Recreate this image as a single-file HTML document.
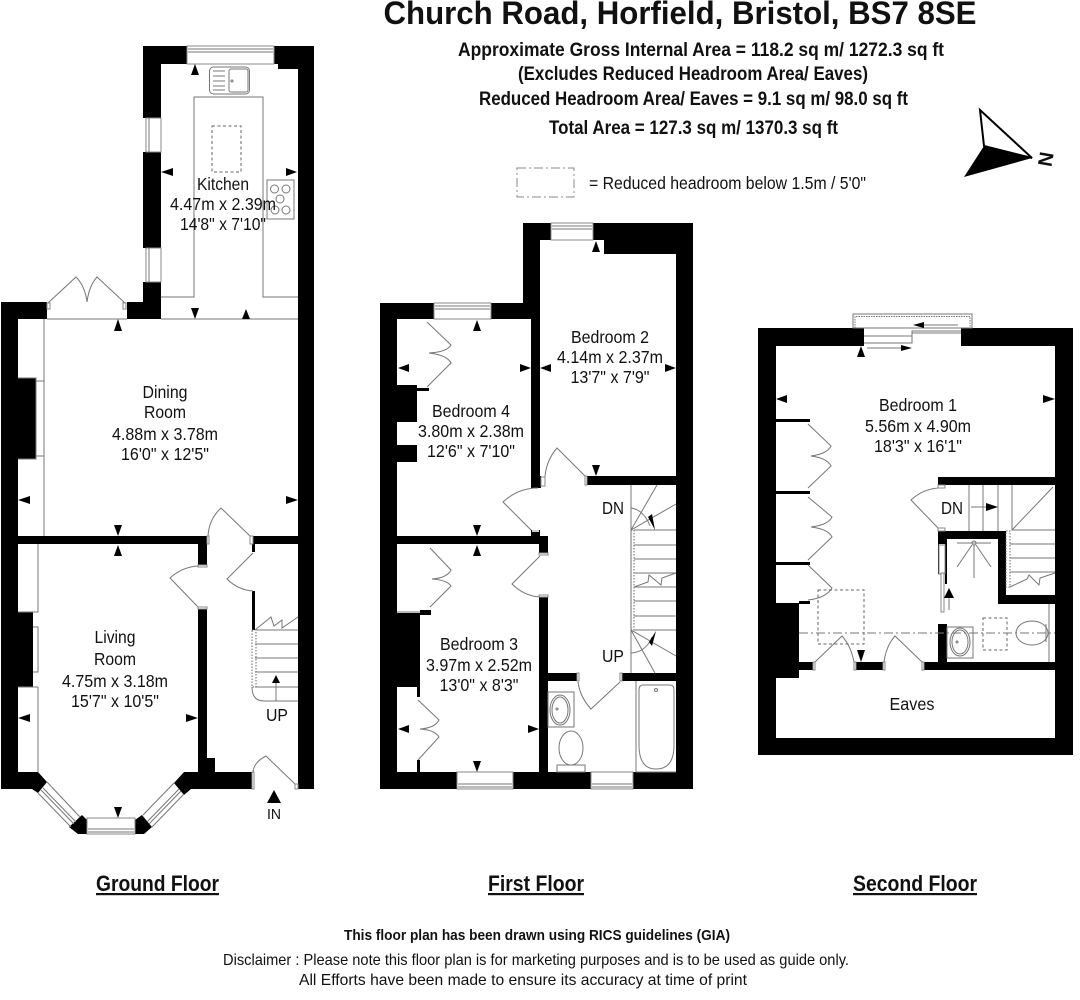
<!DOCTYPE html>
<html><head><meta charset="utf-8"><style>
html,body{margin:0;padding:0;background:#fff;width:1080px;height:1000px;overflow:hidden}
svg{display:block}
text{font-family:"Liberation Sans",sans-serif;fill:#111;text-anchor:middle}
.r{font-size:17.5px}
.b{font-weight:700}
.l{fill:none;stroke:#777;stroke-width:1}
.d{fill:none;stroke:#666;stroke-width:1;stroke-dasharray:3 2.5}
.w{fill:#000}
.g{fill:#fff;stroke:#888;stroke-width:1}
</style></head><body>
<svg width="1080" height="1000" viewBox="0 0 1080 1000" xmlns="http://www.w3.org/2000/svg">
<rect width="1080" height="1000" fill="#fff"/>

<!-- HEADER -->
<text x="680" y="24" font-size="32" class="b" textLength="593" lengthAdjust="spacingAndGlyphs">Church Road, Horfield, Bristol, BS7 8SE</text>
<text x="701" y="56" font-size="19" class="b" textLength="486" lengthAdjust="spacingAndGlyphs">Approximate Gross Internal Area = 118.2 sq m/ 1272.3 sq ft</text>
<text x="693" y="80" font-size="19" class="b" textLength="350" lengthAdjust="spacingAndGlyphs">(Excludes Reduced Headroom Area/ Eaves)</text>
<text x="693.5" y="105" font-size="19" class="b" textLength="429" lengthAdjust="spacingAndGlyphs">Reduced Headroom Area/ Eaves = 9.1 sq m/ 98.0 sq ft</text>
<text x="693.5" y="134" font-size="19" class="b" textLength="289" lengthAdjust="spacingAndGlyphs">Total Area = 127.3 sq m/ 1370.3 sq ft</text>
<rect x="517" y="168" width="57" height="29" fill="none" stroke="#888" stroke-dasharray="9 3 2 3"/>
<text x="727.5" y="189" font-size="17.5" textLength="277" lengthAdjust="spacingAndGlyphs">= Reduced headroom below 1.5m / 5'0"</text>
<polygon points="980,110 1032,158 984,146" fill="#fff" stroke="#000" stroke-width="2"/>
<polygon points="984,146 1032,158 964,177" fill="#000"/>
<text transform="translate(1039,158) rotate(100)" x="0" y="0" font-size="20" class="b">N</text>

<!-- ========== GROUND FLOOR ========== -->
<g class="w">
<rect x="143" y="46" width="44" height="18"/>
<rect x="143" y="46" width="18" height="72"/>
<rect x="143" y="152" width="18" height="96"/>
<rect x="143" y="282" width="18" height="37"/>
<rect x="127" y="302" width="34" height="17"/>
<polygon points="274,46 314,46 314,69 278,69 278,64 274,64"/>
<rect x="298" y="46" width="16" height="743"/>
<rect x="1" y="302" width="46" height="17"/>
<rect x="1" y="302" width="17" height="487"/>
<rect x="18" y="536" width="189" height="8"/>
<rect x="253" y="536" width="45" height="8"/>
<rect x="198" y="536" width="9" height="29"/>
<rect x="198" y="609" width="9" height="163"/>
<rect x="198" y="758" width="17" height="15"/>
<rect x="252" y="544" width="3" height="8"/>
<rect x="252" y="591" width="3" height="39"/>
<polygon points="18,772 38,772 47,782 38,793 32,789 1,789"/>
<polygon points="174,783 184,772 252,772 252,789 191,789 184,795"/>
<polygon points="82,815 87,820 87,834 78,834 69,827"/>
<polygon points="142,815 135,820 135,834 144,834 152,827"/>
<rect x="18" y="612" width="15" height="75"/>
<rect x="18" y="378" width="18" height="81"/>
</g>
<!-- ground windows -->
<rect class="g" x="187" y="46" width="87" height="18"/>
<path class="l" d="M188,49H273M188,52H273"/>
<rect class="g" x="146" y="118" width="15" height="34"/>
<path class="l" d="M149,118V152"/>
<rect class="g" x="146" y="248" width="15" height="34"/>
<path class="l" d="M149,248V282"/>
<rect class="g" x="87" y="818" width="48" height="16"/>
<path class="l" d="M88,829H134M88,832H134"/>
<path class="l" d="M47,782L80,817M38,793L71,827M41,790L74,824M43,788L76,822"/>
<path class="l" d="M143,815L174,783M152,827L184,794M149,824L181,791M147,822L179,789"/>
<!-- kitchen -->
<path class="l" d="M161,297H194V97H263V297H298M161,319H298M47,319H127M44,319V536"/>
<rect class="d" x="212" y="126" width="29" height="46"/>
<rect x="209.5" y="67" width="40" height="27" rx="4" class="l"/>
<rect x="229" y="69" width="19" height="23" rx="2" class="l"/>
<path class="l" d="M213,71H225M213,76H225M213,81H225M213,86H225M213,90H225"/>
<circle cx="232" cy="81" r="1" class="l"/>
<rect x="267" y="180" width="27" height="39" class="l"/>
<g class="l"><circle cx="274.5" cy="189" r="4"/><circle cx="286" cy="189" r="4"/><circle cx="280" cy="199" r="4"/><circle cx="275" cy="210" r="4"/><circle cx="286" cy="210" r="4"/></g>
<!-- french doors -->
<path class="l" d="M48,303L76,277Q85,286 87,302Q89,286 97,277L125,303"/>
<rect class="g" x="47" y="303" width="3" height="6"/><rect class="g" x="123" y="303" width="3" height="6"/>
<!-- dining/living builtins -->
<path class="l" d="M18,378H36V459H18M36,381H44V456H36M44,378V381M44,456V459"/>
<path class="l" d="M38,544V612H18M33,612H38M38,687V772M18,687H38M33,627H38V672H33"/>
<!-- ground doors -->
<path class="l" d="M208,536Q209,519 221,508L250,536"/>
<path class="l" d="M253,553L227,579Q238,590 253,591"/>
<path class="l" d="M198,566Q182,567 170,578L198,607"/>
<path class="l" d="M253,772Q254,762 266,756L296,785"/>
<rect class="g" x="207" y="536" width="2" height="8"/><rect class="g" x="250" y="536" width="3" height="8"/>
<rect class="g" x="198" y="565" width="9" height="2"/><rect class="g" x="198" y="607" width="9" height="2"/>
<rect class="g" x="252" y="772" width="2" height="17"/><rect class="g" x="295" y="784" width="3" height="5"/>
<!-- ground stair -->
<rect x="252" y="630" width="4" height="57" class="d" style="stroke-dasharray:1.5 1.5"/>
<path class="l" d="M255,630H298M255,644H298M255,658H298M255,672H298M255,687H298M252,687Q252,701 264,701H298"/>
<path class="l" d="M255,630L271,617L274,626L282,620V628L298,617"/>
<path class="l" d="M276,683V701"/>

<text class="r" x="223" y="190" textLength="52" lengthAdjust="spacingAndGlyphs">Kitchen</text>
<text class="r" x="223" y="210" textLength="106" lengthAdjust="spacingAndGlyphs">4.47m x 2.39m</text>
<text class="r" x="223" y="230" textLength="86" lengthAdjust="spacingAndGlyphs">14'8" x 7'10"</text>
<text class="r" x="165" y="398" textLength="45" lengthAdjust="spacingAndGlyphs">Dining</text>
<text class="r" x="165" y="418" textLength="42" lengthAdjust="spacingAndGlyphs">Room</text>
<text class="r" x="165" y="440" textLength="106" lengthAdjust="spacingAndGlyphs">4.88m x 3.78m</text>
<text class="r" x="165" y="460" textLength="88" lengthAdjust="spacingAndGlyphs">16'0" x 12'5"</text>
<text class="r" x="115" y="643" textLength="41" lengthAdjust="spacingAndGlyphs">Living</text>
<text class="r" x="115" y="665" textLength="42" lengthAdjust="spacingAndGlyphs">Room</text>
<text class="r" x="115" y="687" textLength="106" lengthAdjust="spacingAndGlyphs">4.75m x 3.18m</text>
<text class="r" x="115" y="707" textLength="88" lengthAdjust="spacingAndGlyphs">15'7" x 10'5"</text>
<text class="r" x="277" y="721" textLength="22" lengthAdjust="spacingAndGlyphs">UP</text>
<text x="274" y="819" font-size="15" textLength="14" lengthAdjust="spacingAndGlyphs">IN</text>
<polygon points="267,803 274,790 281,803" fill="#000"/>

<!-- ========== FIRST FLOOR ========== -->
<g class="w">
<rect x="380" y="303" width="54" height="16"/>
<rect x="380" y="303" width="17" height="486"/>
<rect x="491" y="303" width="49" height="16"/>
<rect x="523" y="223" width="28" height="17"/>
<rect x="523" y="223" width="17" height="96"/>
<rect x="531" y="303" width="9" height="185"/>
<rect x="531" y="476" width="10" height="12"/>
<polygon points="593,223 693,223 693,789 676,789 676,254 604,254 604,240 593,240"/>
<rect x="587" y="476" width="89" height="9"/>
<rect x="397" y="385" width="20" height="37"/>
<rect x="417" y="388" width="12" height="3"/>
<rect x="397" y="445" width="20" height="17"/>
<rect x="397" y="536" width="151" height="8"/>
<rect x="539" y="544" width="9" height="9"/>
<rect x="539" y="597" width="9" height="176"/>
<rect x="380" y="772" width="77" height="17"/>
<rect x="513" y="772" width="78" height="17"/>
<rect x="633" y="772" width="60" height="17"/>
<rect x="397" y="613" width="23" height="74"/>
<rect x="420" y="610" width="11" height="5"/>
<rect x="417" y="687" width="3" height="10"/>
<rect x="417" y="760" width="3" height="12"/>
<rect x="548" y="673" width="29" height="8"/>
<rect x="622" y="673" width="54" height="8"/>
</g>
<rect class="g" x="434" y="303" width="57" height="16"/><path class="l" d="M435,306H490M435,309H490"/>
<rect class="g" x="551" y="223" width="42" height="17"/><path class="l" d="M552,226H592M552,229H592"/>
<rect class="g" x="457" y="772" width="56" height="17"/><path class="l" d="M458,784H512M458,787H512"/>
<rect class="g" x="591" y="772" width="42" height="17"/><path class="l" d="M592,784H632M592,787H632"/>
<!-- closets -->
<path class="l" d="M427,322L451,345Q447,352 429,353Q447,355 451,363L427,387"/>
<path class="l" d="M430,548L451,570Q447,578 432,579Q447,580 451,586L430,607"/>
<path class="l" d="M418,700L439,720Q435,728 420,729Q435,730 439,737L418,760"/>
<path class="l" d="M397,612H420"/>
<!-- first doors -->
<path class="l" d="M545,477Q546,461 557,448L585,476"/>
<path class="l" d="M538,488Q518,488 503,502L533,532"/>
<path class="l" d="M540,556L512,584Q524,596 540,597"/>
<path class="l" d="M578,682Q580,697 591,709L620,682"/>
<rect class="g" x="541" y="477" width="4" height="9"/><rect class="g" x="585" y="476" width="2" height="9"/>
<rect x="531" y="530" width="9" height="6" fill="#000"/><rect x="532" y="530" width="7" height="2" fill="#ccc"/>
<rect class="g" x="539" y="553" width="9" height="2"/><rect class="g" x="539" y="595" width="9" height="2"/>
<rect class="g" x="577" y="673" width="2" height="8"/><rect class="g" x="620" y="673" width="2" height="8"/>
<!-- first stair -->
<path class="l" d="M631,485V673"/>
<rect x="631" y="530" width="3" height="100" class="d" style="stroke-dasharray:1.5 1.5"/>
<path class="l" d="M634,530H676M634,545H676M634,559H676M634,573H676M634,587H676M634,601H676M634,616H676M634,630H676"/>
<path class="l" d="M631,530L657,485M631,530L676,504M631,630L676,656M631,630L655,673"/>
<path class="l" d="M631,508Q644,510 650,526M631,653Q646,652 652,637"/>
<path d="M648,517L655,530L652,514Z" fill="#000"/>
<path d="M649,642L656,631L652,646Z" fill="#000"/>
<path d="M634,587L648,582L649,575L661,585L662,578L676,573" fill="#fff" stroke="#777"/>
<!-- bath -->
<rect class="l" x="548" y="692" width="26" height="35"/>
<ellipse class="l" cx="560" cy="710" rx="10" ry="15"/><ellipse class="l" cx="560" cy="710" rx="8" ry="13"/>
<circle class="l" cx="557" cy="709" r="1"/>
<ellipse class="l" cx="571" cy="748" rx="12" ry="17"/>
<rect class="l" x="557" y="765" width="28" height="7"/>
<path class="l" d="M636,681V772H676"/>
<path class="l" d="M639,690Q639,685 643,685H670Q674,685 674,690V745Q674,769 656,769Q639,769 639,745Z"/>
<circle class="l" cx="656" cy="690" r="1.5"/>

<text class="r" x="610" y="343" textLength="78" lengthAdjust="spacingAndGlyphs">Bedroom 2</text>
<text class="r" x="610" y="363" textLength="106" lengthAdjust="spacingAndGlyphs">4.14m x 2.37m</text>
<text class="r" x="610" y="383" textLength="79" lengthAdjust="spacingAndGlyphs">13'7" x 7'9"</text>
<text class="r" x="471" y="417" textLength="78" lengthAdjust="spacingAndGlyphs">Bedroom 4</text>
<text class="r" x="471" y="437" textLength="106" lengthAdjust="spacingAndGlyphs">3.80m x 2.38m</text>
<text class="r" x="471" y="457" textLength="88" lengthAdjust="spacingAndGlyphs">12'6" x 7'10"</text>
<text class="r" x="479" y="650" textLength="78" lengthAdjust="spacingAndGlyphs">Bedroom 3</text>
<text class="r" x="479" y="671" textLength="106" lengthAdjust="spacingAndGlyphs">3.97m x 2.52m</text>
<text class="r" x="479" y="691" textLength="79" lengthAdjust="spacingAndGlyphs">13'0" x 8'3"</text>
<text class="r" x="613" y="514" textLength="22" lengthAdjust="spacingAndGlyphs">DN</text>
<text class="r" x="613" y="662" textLength="22" lengthAdjust="spacingAndGlyphs">UP</text>

<!-- ========== SECOND FLOOR ========== -->
<g class="w">
<rect x="758" y="328" width="106" height="18"/>
<rect x="961" y="328" width="112" height="18"/>
<rect x="758" y="328" width="18" height="427"/>
<rect x="1055" y="328" width="18" height="427"/>
<rect x="758" y="738" width="315" height="17"/>
<rect x="938" y="477" width="117" height="8"/>
<rect x="938" y="531" width="68" height="8"/>
<rect x="938" y="531" width="9" height="13"/>
<rect x="945" y="544" width="2" height="40"/>
<rect x="938" y="544" width="1" height="30"/>
<rect x="998" y="531" width="8" height="73"/>
<rect x="998" y="595" width="57" height="9"/>
<rect x="938" y="624" width="9" height="38"/>
<rect x="776" y="603" width="23" height="75"/>
<rect x="799" y="662" width="14" height="8"/>
<rect x="856" y="662" width="27" height="8"/>
<rect x="924" y="662" width="131" height="8"/>
<rect x="776" y="419" width="34" height="3"/>
<rect x="776" y="491" width="34" height="3"/>
<rect x="776" y="562" width="34" height="3"/>
<rect x="799" y="601" width="11" height="3"/>
</g>
<!-- dormer -->
<rect x="853" y="314" width="119" height="14" fill="none" stroke="#777" stroke-width="1"/>
<path class="l" d="M855,328V316.5H970V328" style="stroke-dasharray:1.5 1"/>
<path class="l" d="M864,336H912V331H961M864,343H912V336M912,333H961"/>
<path class="l" d="M867,348H905M958,325H920"/>
<polygon points="901,345 912,348 901,351" fill="#000"/>
<polygon points="924,322 913,325 924,328" fill="#000"/>
<!-- closets -->
<path class="l" d="M808,424L831,446Q827,454 811,456Q827,458 831,466L808,488"/>
<path class="l" d="M808,497L832,517Q828,525 811,527Q828,529 832,537L808,560"/>
<path class="l" d="M808,565L832,588Q826,598 808,600"/>
<!-- second doors -->
<path class="l" d="M945,488Q925,487 911,500L938,528"/>
<rect class="g" x="938" y="485" width="7" height="3"/><rect class="g" x="938" y="528" width="7" height="3"/>
<path class="l" d="M815,662L842,636Q851,646 854,662M884,662Q886,646 895,636L922,662"/>
<rect class="g" x="813" y="662" width="2" height="8"/><rect class="g" x="854" y="662" width="2" height="8"/><rect class="g" x="883" y="662" width="2" height="8"/><rect class="g" x="922" y="662" width="2" height="8"/>
<!-- second stair -->
<path class="l" d="M969,485V531M983,485V531M998,485V531M1012,485V530H1055M1012,530L1053,487"/>
<path class="l" d="M971,507H990"/>
<polygon points="986,503 998,507 986,511" fill="#000"/>
<rect x="1006" y="531" width="4" height="56" class="d" style="stroke-dasharray:1.5 1.5"/>
<path class="l" d="M1010,544H1055M1010,558H1055M1010,572H1055"/>
<path d="M1010,587L1027,579L1029,575L1039,585L1040,578L1055,573" fill="none" stroke="#777"/>
<!-- shower -->
<rect class="g" x="939" y="545" width="6" height="29"/>
<rect class="g" x="941" y="573" width="3" height="39"/>
<circle class="l" cx="974" cy="543" r="2"/>
<path class="l" d="M957,543H991M972,545L957,567M976,545L991,567M974,545V578"/>
<polygon points="944,598 949,588 954,598" fill="#000"/>
<path class="l" d="M949,598V610"/>
<rect class="l" x="947" y="627" width="26" height="31"/>
<ellipse class="l" cx="960" cy="642" rx="10" ry="14"/><ellipse class="l" cx="960" cy="642" rx="8" ry="12"/>
<circle class="l" cx="957" cy="642" r="1"/>
<rect class="d" x="983" y="618" width="24" height="32"/>
<ellipse class="l" cx="1032" cy="633" rx="16" ry="12"/>
<path class="l" d="M1046,624V642M1049,604V662"/>
<rect class="d" x="818" y="590" width="46" height="54"/>
<path d="M799,633H1055" fill="none" stroke="#777" stroke-dasharray="9 3 2 3"/>
<text class="r" x="918" y="411" textLength="78" lengthAdjust="spacingAndGlyphs">Bedroom 1</text>
<text class="r" x="918" y="432" textLength="106" lengthAdjust="spacingAndGlyphs">5.56m x 4.90m</text>
<text class="r" x="918" y="452" textLength="88" lengthAdjust="spacingAndGlyphs">18'3" x 16'1"</text>
<text class="r" x="952" y="514" textLength="22" lengthAdjust="spacingAndGlyphs">DN</text>
<text class="r" x="912" y="710" textLength="45" lengthAdjust="spacingAndGlyphs">Eaves</text>

<!-- ARROWHEADS -->
<g fill="#000">
<polygon points="191,75 195,64 199,75"/><polygon points="161,172 173,168 173,176"/><polygon points="297,172 286,168 286,176"/>
<polygon points="191,308 195,319 199,308"/><polygon points="242,319 246,309 250,319"/>
<polygon points="114,331 118,319 122,331"/><polygon points="114,525 118,536 122,525"/><polygon points="114,556 118,545 122,556"/>
<polygon points="18,500 30,496 30,504"/><polygon points="298,500 286,496 286,504"/>
<polygon points="18,718 30,714 30,722"/><polygon points="198,718 186,714 186,722"/><polygon points="114,807 118,818 122,807"/>
<polygon points="272,683 276,675 280,683"/>
<polygon points="592,252 596,241 600,252"/><polygon points="540,368 551,364 551,372"/><polygon points="676,368 665,364 665,372"/><polygon points="592,465 596,476 600,465"/>
<polygon points="473,331 477,320 481,331"/><polygon points="398,368 409,364 409,372"/><polygon points="531,368 520,364 520,372"/><polygon points="473,525 477,536 481,525"/>
<polygon points="473,556 477,545 481,556"/><polygon points="398,729 409,725 409,733"/><polygon points="539,729 528,725 528,733"/><polygon points="473,761 477,772 481,761"/>
<polygon points="857,357 861,346 865,357"/><polygon points="776,399 787,395 787,403"/><polygon points="1055,399 1043,395 1043,403"/><polygon points="857,650 861,662 865,650"/>
</g>

<!-- FLOOR TITLES -->
<text x="157.5" y="891" font-size="22" class="b" textLength="123" lengthAdjust="spacingAndGlyphs" text-decoration="underline">Ground Floor</text>
<text x="536" y="891" font-size="22" class="b" textLength="96" lengthAdjust="spacingAndGlyphs" text-decoration="underline">First Floor</text>
<text x="915" y="891" font-size="22" class="b" textLength="124" lengthAdjust="spacingAndGlyphs" text-decoration="underline">Second Floor</text>

<!-- FOOTER -->
<text x="537" y="940" font-size="15" class="b" textLength="386" lengthAdjust="spacingAndGlyphs">This floor plan has been drawn using RICS guidelines (GIA)</text>
<text x="536" y="965" font-size="16" textLength="626" lengthAdjust="spacingAndGlyphs">Disclaimer : Please note this floor plan is for marketing purposes and is to be used as guide only.</text>
<text x="523" y="985" font-size="16" textLength="448" lengthAdjust="spacingAndGlyphs">All Efforts have been made to ensure its accuracy at time of print</text>
</svg>
</body></html>
